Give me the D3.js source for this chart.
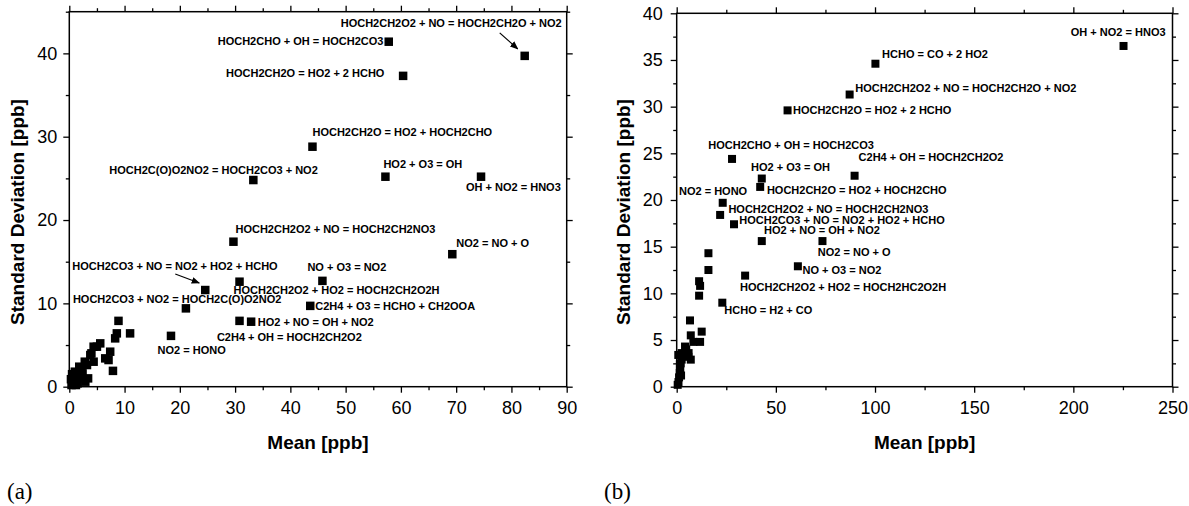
<!DOCTYPE html>
<html><head><meta charset="utf-8">
<script src="https://cdn.jsdelivr.net/npm/d3@7"></script>
<style>body{margin:0;background:#fff}</style></head><body>
<svg id="c" width="1189" height="506"></svg>
<script>
// ---------- Panel (a) data ----------
const aReactions = [
  "HOCH2CH2O2 + NO = HOCH2CH2O + NO2",
  "HOCH2CHO + OH = HOCH2CO3",
  "HOCH2CH2O = HO2 + 2 HCHO",
  "HOCH2CH2O = HO2 + HOCH2CHO",
  "HOCH2C(O)O2NO2 = HOCH2CO3 + NO2",
  "HO2 + O3 = OH",
  "OH + NO2 = HNO3",
  "HOCH2CH2O2 + NO = HOCH2CH2NO3",
  "NO2 = NO + O",
  "HOCH2CO3 + NO = NO2 + HO2 + HCHO",
  "NO + O3 = NO2",
  "HOCH2CH2O2 + HO2 = HOCH2CH2O2H",
  "HOCH2CO3 + NO2 = HOCH2C(O)O2NO2",
  "C2H4 + O3 = HCHO + CH2OOA",
  "HO2 + NO = OH + NO2",
  "C2H4 + OH = HOCH2CH2O2",
  "NO2 = HONO"
];
const aMean = [82.4, 57.8, 60.4, 44.0, 33.3, 57.2, 74.5, 29.7, 69.3, 24.6, 45.8, 30.8, 21.1, 43.6, 32.9, 30.8, 18.4];
const aSd   = [39.7, 41.4, 37.3, 28.8, 24.8, 25.2, 25.2, 17.4, 15.9, 11.6, 12.7, 12.6, 9.4, 9.7, 7.8, 7.9, 6.1];
const aOtherMean = [8.9, 8.6, 8.3, 11.0, 5.6, 4.4, 7.4, 6.5, 7.1, 7.9, 3.8, 4.4, 2.8, 2.2, 1.0, 3.4, 1.0, 0.6, 1.5, 2.9, 1.5, 2.0, 0.4, 0.8, 1.8, 3.2, 5.0, 4.0, 2.4, 1.2, 0.3, 0.5];
const aOtherSd   = [7.9, 6.4, 5.8, 6.4, 5.2, 4.8, 4.2, 3.4, 3.2, 1.9, 3.8, 3.0, 3.0, 2.0, 1.8, 1.0, 0.8, 0.6, 0.4, 0.6, 1.4, 1.0, 0.2, 1.2, 2.4, 2.6, 4.8, 4.0, 1.6, 0.2, 0.9, 1.5];
const aXTicks = [0, 10, 20, 30, 40, 50, 60, 70, 80, 90];
const aYTicks = [0, 10, 20, 30, 40];

// ---------- Panel (b) data ----------
const bReactions = [
  "OH + NO2 = HNO3",
  "HCHO = CO + 2 HO2",
  "HOCH2CH2O2 + NO = HOCH2CH2O + NO2",
  "HOCH2CH2O = HO2 + 2 HCHO",
  "HOCH2CHO + OH = HOCH2CO3",
  "HO2 + O3 = OH",
  "C2H4 + OH = HOCH2CH2O2",
  "HOCH2CH2O = HO2 + HOCH2CHO",
  "NO2 = HONO",
  "HOCH2CH2O2 + NO = HOCH2CH2NO3",
  "HOCH2CO3 + NO = NO2 + HO2 + HCHO",
  "HO2 + NO = OH + NO2",
  "NO2 = NO + O",
  "NO + O3 = NO2",
  "HOCH2CH2O2 + HO2 = HOCH2HC2O2H",
  "HCHO = H2 + CO"
];
const bMean = [225.3, 100.2, 87.2, 55.9, 27.9, 42.9, 89.7, 42.1, 23.2, 21.9, 28.9, 42.9, 73.5, 61.1, 34.5, 23.0];
const bSd   = [36.5, 34.6, 31.3, 29.6, 24.4, 22.3, 22.6, 21.4, 19.7, 18.4, 17.4, 15.6, 15.6, 12.9, 11.9, 9.0];
const bOtherMean = [16.0, 16.0, 11.3, 11.8, 11.3, 6.7, 7.1, 12.6, 11.8, 8.4, 4.2, 2.5, 5.9, 7.1, 0.8, 2.5, 2.0, 1.8, 1.5, 1.2, 0.9, 0.5, 4.8, 3.0, 6.0, 2.2, 1.6];
const bOtherSd   = [14.3, 12.5, 11.3, 10.8, 9.75, 7.1, 5.5, 5.9, 4.8, 4.8, 4.3, 3.6, 3.2, 2.9, 3.4, 2.9, 2.5, 2.0, 1.5, 1.0, 0.5, 0.2, 4.0, 3.3, 3.6, 1.2, 2.4];
const bXTicks = [0, 50, 100, 150, 200, 250];
const bYTicks = [0, 5, 10, 15, 20, 25, 30, 35, 40];

// ---------- layout (label offsets in px relative to the point) ----------
const aLabelDx = [-184, -171, -177, 0, -144, -2, -15, 2, 4, -133, -15, -6, -113, 5, 6.6, -22.6, -13.4];
const aLabelDy = [-29, 3.3, 1.3, -11, -6, -9, 14, -9, -7, -20, -10, 12, -5, 4, 4, 20, 18];
const aArrows = [{i: 0, x1: -25, y1: -23, x2: -7, y2: -7}, {i: 9, x1: -30, y1: -16, x2: -6, y2: -7}];
const bLabelDx = [-52.7, 6.7, 5.7, 5.4, -23.7, -10.7, 4, 6.7, -43.7, 8.3, 5.3, 2.3, -4.6, 4.6, -5, 2];
const bLabelDy = [-10.3, -5.5, -2.3, 3.3, -10, -7.3, -15, 7, -7.7, -1.7, 0, -6.7, 15, 7.3, 15.7, 11.7];

const svg = d3.select("#c");
svg.append("defs").append("marker")
  .attr("id", "arr").attr("viewBox", "0 0 10 10").attr("refX", 9).attr("refY", 5)
  .attr("markerWidth", 7).attr("markerHeight", 7).attr("orient", "auto")
  .append("path").attr("d", "M0,1 L10,5 L0,9 Z").attr("fill", "#000");

function panel(o) {
  const g = svg.append("g");
  const x = d3.scaleLinear().domain(o.xDom).range([o.left, o.right]);
  const y = d3.scaleLinear().domain(o.yDom).range([o.bottom, o.top]);
  const minorX = d3.range(o.xDom[0], o.xDom[1] + 1e-9, o.xMinor).filter(v => !o.xTicks.includes(v));
  const minorY = d3.range(o.yDom[0], o.yDom[1] + 1e-9, o.yMinor).filter(v => !o.yTicks.includes(v));
  const fmt = d3.format("d");
  const style = sel => {
    sel.select(".domain").remove();
    sel.selectAll("line").attr("stroke", "#000").attr("stroke-width", 1.3);
    sel.selectAll("text").attr("font-family", "Liberation Sans, Arial, sans-serif")
      .attr("font-size", 18).attr("fill", "#000");
  };
  // major + minor ticks on 4 sides
  g.append("g").attr("transform", `translate(0,${o.bottom})`)
    .call(d3.axisBottom(x).tickValues(o.xTicks).tickFormat(fmt).tickSize(6).tickPadding(9)).call(style);
  g.append("g").attr("transform", `translate(0,${o.bottom})`)
    .call(d3.axisBottom(x).tickValues(minorX).tickFormat("").tickSize(3.5)).call(style);
  g.append("g").attr("transform", `translate(0,${o.top})`)
    .call(d3.axisTop(x).tickValues(o.xTicks).tickFormat("").tickSize(6)).call(style);
  g.append("g").attr("transform", `translate(0,${o.top})`)
    .call(d3.axisTop(x).tickValues(minorX).tickFormat("").tickSize(3.5)).call(style);
  g.append("g").attr("transform", `translate(${o.left},0)`)
    .call(d3.axisLeft(y).tickValues(o.yTicks).tickFormat(fmt).tickSize(6).tickPadding(o.yPad)).call(style);
  g.append("g").attr("transform", `translate(${o.left},0)`)
    .call(d3.axisLeft(y).tickValues(minorY).tickFormat("").tickSize(3.5)).call(style);
  g.append("g").attr("transform", `translate(${o.right},0)`)
    .call(d3.axisRight(y).tickValues(o.yTicks).tickFormat("").tickSize(6)).call(style);
  g.append("g").attr("transform", `translate(${o.right},0)`)
    .call(d3.axisRight(y).tickValues(minorY).tickFormat("").tickSize(3.5)).call(style);
  // frame
  g.append("rect").attr("x", o.left).attr("y", o.top)
    .attr("width", o.right - o.left).attr("height", o.bottom - o.top)
    .attr("fill", "none").attr("stroke", "#000").attr("stroke-width", 1.5);
  // titles
  g.append("text").attr("x", (o.left + o.right) / 2).attr("y", o.xTitleY)
    .attr("text-anchor", "middle").attr("font-family", "Liberation Sans, Arial, sans-serif")
    .attr("font-weight", "bold").attr("font-size", 19).text("Mean [ppb]");
  g.append("text").attr("transform", `translate(${o.yTitleX},${o.yTitleC}) rotate(-90)`)
    .attr("text-anchor", "middle").attr("font-family", "Liberation Sans, Arial, sans-serif")
    .attr("font-weight", "bold").attr("font-size", 19).text("Standard Deviation [ppb]");
  // points
  const s = o.sq;
  const pts = o.mean.map((m, i) => [m, o.sd[i]]).concat(o.oMean.map((m, i) => [m, o.oSd[i]]));
  g.append("g").selectAll("rect").data(pts).join("rect")
    .attr("x", d => x(d[0]) - s / 2).attr("y", d => y(d[1]) - s / 2)
    .attr("width", s).attr("height", s).attr("fill", "#000");
  // labels
  g.append("g").selectAll("text").data(o.labels).join("text")
    .attr("x", (t, i) => x(o.mean[i]) + o.dx[i])
    .attr("y", (t, i) => y(o.sd[i]) + o.dy[i])
    .attr("font-family", "Liberation Sans, Arial, sans-serif").attr("font-weight", "bold")
    .attr("font-size", 11).attr("fill", "#000").text(t => t);
  // arrows
  g.append("g").selectAll("line").data(o.arrows || []).join("line")
    .attr("x1", a => x(o.mean[a.i]) + a.x1).attr("y1", a => y(o.sd[a.i]) + a.y1)
    .attr("x2", a => x(o.mean[a.i]) + a.x2).attr("y2", a => y(o.sd[a.i]) + a.y2)
    .attr("stroke", "#000").attr("stroke-width", 1.2).attr("marker-end", "url(#arr)");
  // panel letter
  svg.append("text").attr("x", o.letterX).attr("y", 499)
    .attr("font-family", "Liberation Serif, Times New Roman, serif").attr("font-size", 23)
    .text(o.letter);
}

panel({
  xDom: [0, 90], yDom: [0, 45], left: 69.3, right: 566.7, top: 11.7, bottom: 386.7,
  xTicks: aXTicks, yTicks: aYTicks, xMinor: 5, yMinor: 5, yPad: 6,
  xTitleY: 449, yTitleX: 24, yTitleC: 212,
  mean: aMean, sd: aSd, oMean: aOtherMean, oSd: aOtherSd, labels: aReactions,
  dx: aLabelDx, dy: aLabelDy, arrows: aArrows, sq: 8.5, letter: "(a)", letterX: 7
});
panel({
  xDom: [0, 250], yDom: [0, 40], left: 676.7, right: 1172.5, top: 13.3, bottom: 386.7,
  xTicks: bXTicks, yTicks: bYTicks, xMinor: 25, yMinor: 2.5, yPad: 8,
  xTitleY: 449, yTitleX: 630, yTitleC: 212,
  mean: bMean, sd: bSd, oMean: bOtherMean, oSd: bOtherSd, labels: bReactions,
  dx: bLabelDx, dy: bLabelDy, arrows: [], sq: 8, letter: "(b)", letterX: 604
});
</script>
</body></html>
